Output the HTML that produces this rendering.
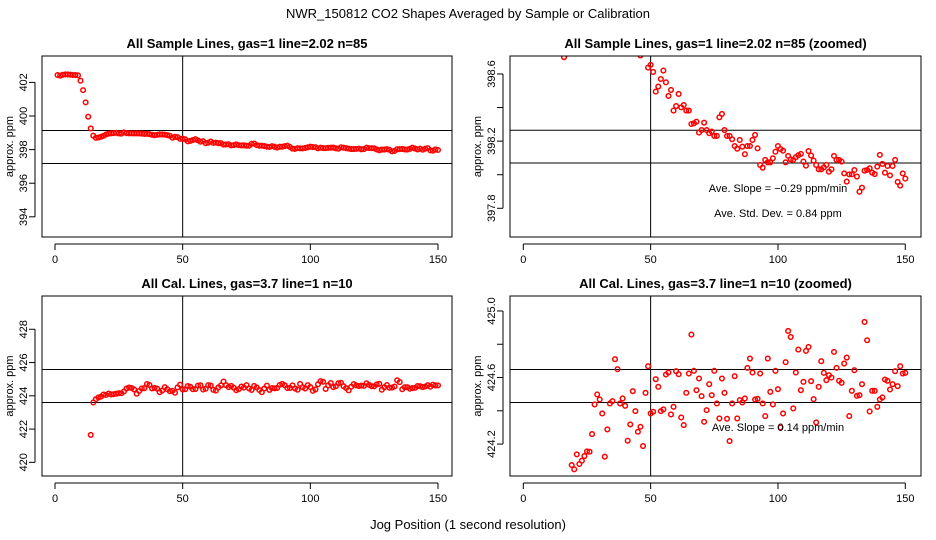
<!DOCTYPE html>
<html><head><meta charset="utf-8">
<style>
html,body{margin:0;padding:0;background:#fff;overflow:hidden;width:936px;height:540px;}
svg{display:block;font-family:"Liberation Sans",Arial,sans-serif;}
</style></head>
<body>
<svg id="chart" width="936" height="540" viewBox="0 0 936 540" xmlns="http://www.w3.org/2000/svg">
<text x="468" y="18" text-anchor="middle" font-size="13">NWR_150812  CO2 Shapes Averaged by Sample or Calibration</text>
<text x="468" y="529" text-anchor="middle" font-size="13">Jog Position (1 second resolution)</text>
</svg>
<script>
// ---- data ----
const sampleX = [];
for (let i = 1; i <= 150; i++) sampleX.push(i);
const sampleVals = [402.44,402.40,402.45,402.47,402.47,402.46,402.44,402.44,402.42,402.10,
401.54,400.81,399.96,399.26,398.83,398.70,398.72,398.76,398.82,398.90,
398.95,398.97,398.98,399.00,398.96,398.95,399.02,398.98,398.97,398.97,
398.96,398.97,398.96,398.95,398.93,398.94,398.92,398.88,398.86,398.88,
398.90,398.90,398.89,398.86,398.82,398.71,398.76,398.74,398.638,398.654,
398.612,398.495,398.525,398.570,398.620,398.550,398.469,398.505,398.382,398.409,
398.481,398.401,398.415,398.382,398.382,398.302,398.306,398.316,398.251,398.266,
398.310,398.266,398.247,398.257,398.231,398.231,398.342,398.362,398.266,398.231,
398.231,398.211,398.171,398.155,398.207,398.167,398.122,398.171,398.171,398.207,
398.237,398.157,398.058,398.042,398.088,398.074,398.074,398.098,398.137,398.171,
398.153,398.143,398.074,398.112,398.092,398.088,398.104,398.116,398.124,398.078,
398.054,398.141,398.114,398.084,398.058,398.032,398.032,398.044,398.058,398.018,
398.032,398.112,398.088,398.088,398.078,398.008,397.959,398.002,398.002,398.028,
397.989,397.899,397.923,398.024,398.028,398.038,398.012,398.004,398.048,398.118,
398.064,398.012,398.052,397.996,398.052,398.088,397.957,397.935,398.008,397.977];
const calX = [];
for (let i = 14; i <= 150; i++) calX.push(i);
const calVals = [421.65,423.60,423.80,423.90,423.95,424.074,424.048,424.138,424.080,424.10,
424.128,424.156,424.154,424.260,424.438,424.498,424.468,424.384,424.124,424.288,
424.444,424.458,424.710,424.650,424.444,424.474,424.430,424.220,424.318,424.518,
424.398,424.274,424.304,424.188,424.508,424.668,424.384,424.394,424.590,424.544,
424.398,424.408,424.618,424.630,424.378,424.424,424.638,424.620,424.360,424.314,
424.508,424.624,424.858,424.640,424.524,424.594,424.488,424.334,424.404,424.560,
424.494,424.640,424.444,424.354,424.594,424.508,424.352,424.218,424.444,424.608,
424.354,424.464,424.450,424.474,424.658,424.714,424.630,424.468,424.472,424.624,
424.444,424.368,424.714,424.514,424.438,424.640,424.530,424.300,424.384,424.692,
424.880,424.844,424.414,424.630,424.768,424.524,424.574,424.760,424.784,424.578,
424.470,424.330,424.544,424.698,424.628,424.584,424.614,424.600,424.754,424.658,
424.580,424.568,424.684,424.720,424.368,424.520,424.644,424.490,424.494,424.560,
424.934,424.824,424.396,424.520,424.520,424.424,424.468,424.480,424.588,424.580,
424.528,424.560,424.638,424.548,424.668,424.624,424.628];
const xTicks = [0, 50, 100, 150];
const tlTicks = [394, 396, 398, 400, 402];
const trTicks = [397.8, 398.0, 398.2, 398.4, 398.6];
const trLabels = ["397.8", "", "398.2", "", "398.6"];
const blTicks = [420, 422, 424, 426, 428];
const brTicks = [424.2, 424.4, 424.6, 424.8, 425.0];
const brLabels = ["424.2", "", "424.6", "", "425.0"];
const tlHlines = [399.14, 397.17];
const trHlines = [398.265, 398.07];
const blHlines = [425.58, 423.6];
const brHlines = [424.648, 424.45];
const vline = 50;

const NS = "http://www.w3.org/2000/svg";
const svg = document.getElementById("chart");
function mk(tag, attrs, parent) {
  const e = document.createElementNS(NS, tag);
  for (const k in attrs) e.setAttribute(k, attrs[k]);
  (parent || svg).appendChild(e);
  return e;
}

function panel(cfg) {
  const g = mk("g", {});
  
  
  const L = cfg.box[0], R = cfg.box[1], T = cfg.box[2], B = cfg.box[3];
  const sx = v => cfg.x0 + (v) * (cfg.x150 - cfg.x0) / 150;
  const sy = v => T + (cfg.ymax - v) / (cfg.ymax - cfg.ymin) * (B - T);
  const t = mk("text", {x: (L + R) / 2, y: T - 8, "text-anchor": "middle", "font-size": "13", "font-weight": "bold"}, g);
  t.textContent = cfg.title;
  
  
  const cid = cfg.name + "-clip";
  const cp = mk("clipPath", {id: cid}, g);
  mk("rect", {x: L, y: T, width: R - L, height: B - T}, cp);
  const pg = mk("g", {"clip-path": "url(#" + cid + ")"}, g);
  cfg.hlines.forEach(h => {
    const l = mk("line", {x1: L, x2: R, y1: sy(h), y2: sy(h), stroke: "#000", "stroke-width": "1"}, pg);
    
    
  });
  const vl = mk("line", {x1: sx(vline), x2: sx(vline), y1: T, y2: B, stroke: "#000", "stroke-width": "1"}, pg);
  
  
  for (let i = 0; i < cfg.xs.length; i++) {
    const c = mk("circle", {cx: sx(cfg.xs[i]), cy: sy(cfg.ys[i]), r: "2.3", fill: "none", stroke: "#f00", "stroke-width": "1.5"}, pg);
    
    
  }
  const bx = mk("rect", {x: L, y: T, width: R - L, height: B - T, fill: "none", stroke: "#000", "stroke-width": "1"}, g);
  
  
  mk("line", {x1: sx(xTicks[0]), x2: sx(xTicks[xTicks.length - 1]), y1: B + 7, y2: B + 7, stroke: "#000"}, g);
  xTicks.forEach(v => {
    mk("line", {x1: sx(v), x2: sx(v), y1: B + 7, y2: B + 13, stroke: "#000"}, g);
    const tl = mk("text", {x: sx(v), y: B + 26, "text-anchor": "middle", "font-size": "11"}, g);
    tl.textContent = String(v);
    
    
  });
  const ax = L - 7;
  mk("line", {x1: ax, x2: ax, y1: sy(cfg.yticks[0]), y2: sy(cfg.yticks[cfg.yticks.length - 1]), stroke: "#000"}, g);
  cfg.yticks.forEach((v, i) => {
    mk("line", {x1: ax - 6, x2: ax, y1: sy(v), y2: sy(v), stroke: "#000"}, g);
    const lab = cfg.ylabels ? cfg.ylabels[i] : String(v);
    if (lab) {
      const yl = mk("text", {x: 0, y: 0, "text-anchor": "middle", "font-size": "11",
        transform: "translate(" + (L - 15) + "," + sy(v) + ") rotate(-90)"}, g);
      yl.textContent = lab;
      
      
    }
  });
  const yt = mk("text", {x: 0, y: 0, "text-anchor": "middle", "font-size": "11",
    transform: "translate(" + (L - 29) + "," + ((T + B) / 2) + ") rotate(-90)"}, g);
  yt.textContent = "approx. ppm";
  
  
  (cfg.notes || []).forEach(n => {
    const nt = mk("text", {x: n[0], y: n[1], "text-anchor": "middle", "font-size": "11"}, g);
    nt.textContent = n[2];
    
    
  });
}

panel({name: "sample-panel", title: "All Sample Lines, gas=1 line=2.02 n=85", box: [42, 452, 56, 237],
  x0: 55, x150: 438, ymin: 392.8, ymax: 403.57, yticks: tlTicks, hlines: tlHlines, xs: sampleX, ys: sampleVals});
panel({name: "sample-zoom-panel", title: "All Sample Lines, gas=1 line=2.02 n=85 (zoomed)", box: [510, 921, 56, 237],
  x0: 523.3, x150: 905.3, ymin: 397.629, ymax: 398.707, yticks: trTicks, ylabels: trLabels, hlines: trHlines, xs: sampleX, ys: sampleVals,
  notes: [[778, 192, "Ave. Slope =  \u22120.29  ppm/min"], [778, 217, "Ave. Std. Dev. =  0.84  ppm"]]});
panel({name: "cal-panel", title: "All Cal. Lines, gas=3.7 line=1 n=10", box: [42, 452, 296, 476],
  x0: 55, x150: 438, ymin: 419.18, ymax: 430.0, yticks: blTicks, hlines: blHlines, xs: calX, ys: calVals});
panel({name: "cal-zoom-panel", title: "All Cal. Lines, gas=3.7 line=1 n=10 (zoomed)", box: [510, 921, 296, 476],
  x0: 523.3, x150: 905.3, ymin: 424.008, ymax: 425.09, yticks: brTicks, ylabels: brLabels, hlines: brHlines, xs: calX, ys: calVals,
  notes: [[778, 431, "Ave. Slope =  0.14  ppm/min"]]});
</script>
</body></html>
